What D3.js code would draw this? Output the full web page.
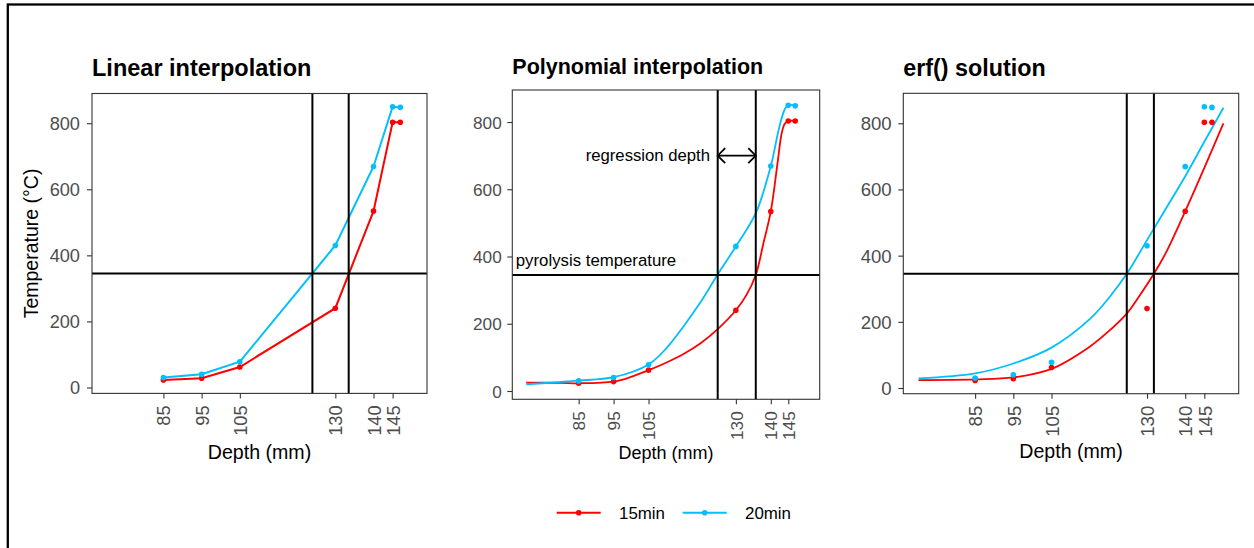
<!DOCTYPE html>
<html>
<head>
<meta charset="utf-8">
<script src="https://cdnjs.cloudflare.com/ajax/libs/d3/7.8.5/d3.min.js"></script>
<style>
  body { margin: 0; background: #fff; }
  svg { display: block; font-family: "Liberation Sans", Arial, sans-serif; }
</style>
</head>
<body>
<svg id="chart" width="1254" height="548"></svg>
<script>

// measured points (depth in mm, temperature in degC)
var depth = [85, 95, 105, 130, 140, 145, 147];
var temp15 = [23, 28, 62, 240, 534, 803, 803];
var temp20 = [30, 40, 78, 430, 669, 850, 848];

var depthTicks = [85, 95, 105, 130, 140, 145];
var tempTicks = [0, 200, 400, 600, 800];
var pyrolysisTemp = 345;

// polynomial curves
var polyDepth15 = [70, 80, 85, 95, 100, 105, 110, 115, 120, 124.8, 130, 133, 135.7, 137.9, 140, 142, 143.1, 144, 145, 147];
var poly15      = [25, 24, 23, 28, 42, 62, 84, 110, 143, 184, 240, 285, 345, 440, 534, 684, 766, 795, 803, 803];
var polyDepth20 = [70, 80, 85, 95, 105, 110, 115, 120, 124.7, 130, 135.7, 140, 142, 143.1, 144, 145, 147];
var poly20      = [20, 27, 31, 41, 79, 126, 192, 266, 345, 430, 529, 669, 765, 811, 838, 850, 848];

// erf() curves
var erfDepth15 = [70.2, 85, 95, 105, 115, 120, 124.7, 128, 131.8, 135, 140, 145, 150];
var erf15      = [24, 26, 32, 58, 125, 172, 225, 278, 345, 410, 534, 665, 800];
var erfDepth20 = [70.2, 85, 95, 105, 115, 120, 124.7, 130, 135, 140, 145, 150];
var erf20      = [29, 44, 74, 122, 208, 272, 345, 447, 543, 640, 744, 847];

// depths where each curve reaches the pyrolysis temperature
var crossLinear = [124.0, 133.5];
var crossPoly = [124.8, 135.7];
var crossErf = [124.7, 131.8];

var seriesNames = ["15min", "20min"];
var colors = ["#FF0000", "#00BFFF"];

var svg = d3.select("#chart");

// outer frame (cropped on the right and bottom)
svg.append("rect")
    .attr("x", 7.8).attr("y", 4.5)
    .attr("width", 2000).attr("height", 2000)
    .attr("fill", "none").attr("stroke", "#000").attr("stroke-width", 2.3);

function zip(xs, ys) {
    return xs.map(function(d, i) { return [d, ys[i]]; });
}

var smooth = d3.curveCatmullRom.alpha(0.5);

var panels = [
    {title: "Linear interpolation", left: 92, right: 427, top: 93.5, bottom: 393.4,
     xdom: [66.3, 154], ydom: [-17.9, 890], titleY: 76.2, titleSize: 23.5,
     tickSize: 18.2, tickPad: 7, labelSize: 19.6, labelY: 459, lineW: 2,
     cross: crossLinear, curve: d3.curveLinear,
     lines: [zip(depth, temp15), zip(depth, temp20)]},
    {title: "Polynomial interpolation", left: 512.3, right: 819.7, top: 90, bottom: 399.3,
     xdom: [66.0, 154], ydom: [-24.7, 895.2], titleY: 74, titleSize: 21.5,
     tickSize: 17.2, tickPad: 5.6, labelSize: 18, labelY: 459, lineW: 1.8,
     cross: crossPoly, curve: smooth,
     lines: [zip(polyDepth15, poly15), zip(polyDepth20, poly20)]},
    {title: "erf() solution", left: 903.3, right: 1238.7, top: 93.3, bottom: 393.7,
     xdom: [66.2, 154], ydom: [-17.2, 890.6], titleY: 75.7, titleSize: 23.3,
     tickSize: 18.6, tickPad: 6.6, labelSize: 19.6, labelY: 457.5, lineW: 1.8,
     cross: crossErf, curve: smooth,
     lines: [zip(erfDepth15, erf15), zip(erfDepth20, erf20)]}
];

panels.forEach(function(p, pi) {
    var x = d3.scaleLinear().domain(p.xdom).range([p.left, p.right]);
    var y = d3.scaleLinear().domain(p.ydom).range([p.bottom, p.top]);
    var g = svg.append("g");

    // title
    g.append("text")
        .attr("x", p.left).attr("y", p.titleY)
        .style("font-size", p.titleSize + "px").style("font-weight", "bold")
        .attr("fill", "#000")
        .text(p.title);

    // axes
    var xa = g.append("g")
        .attr("transform", "translate(0," + p.bottom + ")")
        .call(d3.axisBottom(x).tickValues(depthTicks).tickSize(5).tickFormat(d3.format("d")));
    xa.select(".domain").remove();
    xa.selectAll(".tick line").attr("stroke", "#333").attr("stroke-width", 1.1);
    xa.selectAll(".tick text")
        .attr("transform", "rotate(-90)")
        .attr("x", -12).attr("y", 0).attr("dy", "0.36em")
        .attr("text-anchor", "end")
        .attr("fill", "#4D4D4D")
        .style("font-size", p.tickSize + "px").style("font-family", "Liberation Sans, Arial, sans-serif");

    var ya = g.append("g")
        .attr("transform", "translate(" + p.left + ",0)")
        .call(d3.axisLeft(y).tickValues(tempTicks).tickSize(5).tickPadding(p.tickPad));
    ya.select(".domain").remove();
    ya.selectAll(".tick line").attr("stroke", "#333").attr("stroke-width", 1.1);
    ya.selectAll(".tick text")
        .attr("fill", "#4D4D4D").attr("dy", "0.35em")
        .style("font-size", p.tickSize + "px").style("font-family", "Liberation Sans, Arial, sans-serif");

    // axis labels
    g.append("text")
        .attr("x", (p.left + p.right) / 2).attr("y", p.labelY)
        .attr("text-anchor", "middle")
        .style("font-size", p.labelSize + "px")
        .text("Depth (mm)");
    if (pi == 0) {
        g.append("text")
            .attr("transform", "translate(37.6," + ((p.top + p.bottom) / 2) + ") rotate(-90)")
            .attr("text-anchor", "middle")
            .style("font-size", "19.5px")
            .text("Temperature (\u00B0C)");
    }

    // series lines + points
    var line = d3.line()
        .x(function(d) { return x(d[0]); })
        .y(function(d) { return y(d[1]); })
        .curve(p.curve);

    p.lines.forEach(function(pts, si) {
        g.append("path")
            .attr("d", line(pts))
            .attr("fill", "none")
            .attr("stroke", colors[si])
            .attr("stroke-width", p.lineW);
    });
    [temp15, temp20].forEach(function(vals, si) {
        g.selectAll(null)
            .data(zip(depth, vals))
            .enter().append("circle")
            .attr("cx", function(d) { return x(d[0]); })
            .attr("cy", function(d) { return y(d[1]); })
            .attr("r", 2.8)
            .attr("fill", colors[si]);
    });

    // pyrolysis temperature and crossing depths
    g.append("line")
        .attr("x1", p.left).attr("x2", p.right)
        .attr("y1", y(pyrolysisTemp)).attr("y2", y(pyrolysisTemp))
        .attr("stroke", "#000").attr("stroke-width", 2);
    g.selectAll(null)
        .data(p.cross)
        .enter().append("line")
        .attr("x1", function(d) { return x(d); })
        .attr("x2", function(d) { return x(d); })
        .attr("y1", p.top).attr("y2", p.bottom)
        .attr("stroke", "#000").attr("stroke-width", 2);

    // annotations on the polynomial panel
    if (pi == 1) {
        var ay = y(700), ax1 = x(p.cross[0]), ax2 = x(p.cross[1]);
        g.append("line")
            .attr("x1", ax1).attr("x2", ax2).attr("y1", ay).attr("y2", ay)
            .attr("stroke", "#000").attr("stroke-width", 1.8);
        g.append("path")
            .attr("d", "M" + (ax1 + 7.5) + "," + (ay - 7.5) + "L" + ax1 + "," + ay + "L" + (ax1 + 7.5) + "," + (ay + 7.5) +
                       "M" + (ax2 - 7.5) + "," + (ay - 7.5) + "L" + ax2 + "," + ay + "L" + (ax2 - 7.5) + "," + (ay + 7.5))
            .attr("fill", "none").attr("stroke", "#000").attr("stroke-width", 1.8);
        g.append("text")
            .attr("x", x(122.6)).attr("y", y(700)).attr("dy", "0.35em")
            .attr("text-anchor", "end")
            .style("font-size", "16.7px")
            .text("regression depth");
        g.append("text")
            .attr("x", x(67.0)).attr("y", y(388)).attr("dy", "0.35em")
            .style("font-size", "16.8px")
            .text("pyrolysis temperature");
    }

    // panel border
    g.append("rect")
        .attr("x", p.left).attr("y", p.top)
        .attr("width", p.right - p.left).attr("height", p.bottom - p.top)
        .attr("fill", "none").attr("stroke", "#333").attr("stroke-width", 1.1);
});

// legend
var legend = svg.append("g");
var legendX = [556.7, 682.7];
seriesNames.forEach(function(name, i) {
    var lx = legendX[i], ly = 512.7;
    legend.append("line")
        .attr("x1", lx).attr("x2", lx + 44).attr("y1", ly).attr("y2", ly)
        .attr("stroke", colors[i]).attr("stroke-width", 2);
    legend.append("circle")
        .attr("cx", lx + 22).attr("cy", ly).attr("r", 2.8)
        .attr("fill", colors[i]);
    legend.append("text")
        .attr("x", lx + 62.3).attr("y", ly).attr("dy", "0.36em")
        .style("font-size", "16.9px")
        .text(name);
});

</script>
</body>
</html>
